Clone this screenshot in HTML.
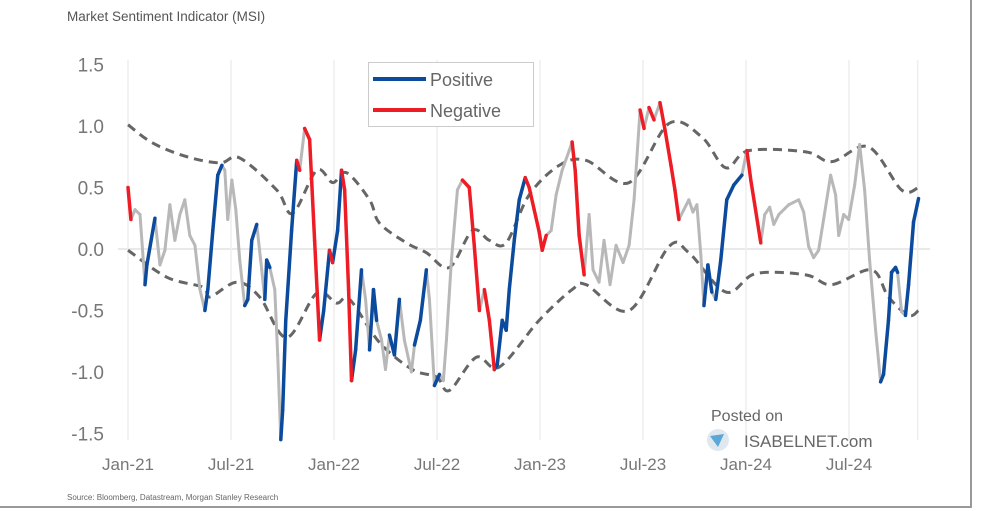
<!DOCTYPE html>
<html><head><meta charset="utf-8">
<style>
html,body{margin:0;padding:0;background:#fff;}
body{width:984px;height:511px;overflow:hidden;position:relative;font-family:"Liberation Sans",sans-serif;}
svg{position:absolute;left:0;top:0;}
</style></head>
<body>
<svg id="chart" width="984" height="511">
  <text x="67" y="21" font-size="13.5" fill="#555">Market Sentiment Indicator (MSI)</text>
  <g id="grid"></g>
  <g id="yaxis"></g>
  <g id="xaxis"></g>
  <g id="bands"></g>
  <g id="series"></g>
  <g>
    <rect x="368.5" y="62.5" width="165" height="64" fill="#fff" stroke="#ccc"/>
    <line x1="373" y1="79" x2="426" y2="79" stroke="#0b4a9c" stroke-width="4"/>
    <text x="430" y="86" font-size="18" fill="#666">Positive</text>
    <line x1="373" y1="110" x2="426" y2="110" stroke="#ee1c25" stroke-width="4"/>
    <text x="430" y="117" font-size="18" fill="#666">Negative</text>
  </g>
  <g>
    <text x="711" y="421" font-size="16" fill="#666">Posted on</text>
    <circle cx="718" cy="440" r="11" fill="#dfe8ef"/>
    <path d="M710 436 L724 434 L718 447 Z" fill="#5aa7d8"/>
    <text x="744" y="447" font-size="17" fill="#666">ISABELNET.com</text>
  </g>
  <text x="67" y="500" font-size="8" fill="#666">Source: Bloomberg, Datastream, Morgan Stanley Research</text>
  <line x1="971" y1="0" x2="971" y2="507" stroke="#999" stroke-width="2"/>
  <line x1="0" y1="507" x2="972" y2="507" stroke="#999" stroke-width="2"/>
</svg>
<script>
const yTicks = [1.5, 1.0, 0.5, 0.0, -0.5, -1.0, -1.5];
const xTickLabels = ["Jan-21","Jul-21","Jan-22","Jul-22","Jan-23","Jul-23","Jan-24","Jul-24"];
const xTickMonths = [0,6,12,18,24,30,36,42];
// months since Jan-21
const msiT = [0,0.17,0.41,0.70,0.99,1.10,1.57,1.86,2.15,2.44,2.73,3.02,3.31,3.60,3.90,4.19,4.48,4.65,4.94,5.23,5.47,5.64,5.81,6.05,6.28,6.51,6.80,6.98,7.21,7.50,7.79,7.97,8.08,8.26,8.55,8.72,8.90,9.01,9.19,9.53,9.83,10.0,10.29,10.58,10.87,11.16,11.40,11.74,11.92,12.21,12.44,12.62,12.85,13.02,13.26,13.60,13.84,14.07,14.30,14.48,14.77,15.0,15.23,15.52,15.81,16.10,16.51,16.69,17.03,17.38,17.56,17.85,18.14,18.37,18.55,18.84,19.19,19.48,19.88,20.17,20.47,20.76,21.05,21.34,21.51,21.80,22.03,22.21,22.50,22.79,23.14,23.37,23.66,23.95,24.13,24.36,24.65,24.94,25.29,25.70,25.87,26.05,26.28,26.57,26.86,27.09,27.44,27.73,28.08,28.43,28.84,29.19,29.48,29.83,30.06,30.35,30.64,30.99,31.28,31.63,31.86,32.09,32.38,32.67,32.91,33.14,33.37,33.55,33.78,34.01,34.24,34.53,34.88,35.29,35.76,36.05,36.28,36.51,36.86,37.09,37.38,37.62,37.91,38.49,39.07,39.36,39.65,39.94,40.23,40.52,40.93,41.22,41.40,41.69,41.98,42.33,42.62,42.91,43.20,43.55,43.84,44.01,44.30,44.48,44.71,44.83,45.06,45.29,45.47,45.76,46.05];
const msiV = [0.50,0.24,0.32,0.28,-0.29,-0.13,0.25,-0.13,-0.01,0.36,0.07,0.28,0.40,0.11,0.03,-0.33,-0.50,-0.33,0.15,0.60,0.68,0.64,0.24,0.56,0.32,-0.09,-0.46,-0.41,0.07,0.20,-0.17,-0.41,-0.09,-0.15,-0.33,-0.86,-1.55,-1.31,-0.58,0.15,0.72,0.64,0.98,0.89,0.07,-0.74,-0.50,-0.01,-0.11,0.15,0.64,0.48,-0.33,-1.07,-0.82,-0.17,-0.41,-0.82,-0.33,-0.58,-0.74,-0.98,-0.70,-0.86,-0.41,-0.74,-1.0,-0.78,-0.58,-0.17,-0.41,-1.11,-1.02,-1.07,-0.74,-0.09,0.48,0.56,0.50,0.03,-0.50,-0.33,-0.58,-0.98,-0.94,-0.58,-0.66,-0.33,0.07,0.40,0.58,0.50,0.32,0.14,-0.01,0.11,0.15,0.44,0.64,0.80,0.87,0.64,0.11,-0.21,0.28,-0.17,-0.27,0.07,-0.29,0.03,-0.11,0.03,0.40,1.13,0.98,1.15,1.05,1.19,0.97,0.68,0.48,0.24,0.32,0.40,0.30,0.36,-0.05,-0.46,-0.13,-0.35,-0.41,-0.09,0.40,0.52,0.60,0.80,0.56,0.36,0.05,0.28,0.34,0.20,0.28,0.36,0.40,0.30,0.02,-0.07,-0.01,0.24,0.60,0.44,0.11,0.28,0.24,0.52,0.85,0.48,-0.09,-0.66,-1.08,-1.02,-0.58,-0.19,-0.15,-0.19,-0.51,-0.54,-0.29,0.22,0.41];
// regime of segment starting at each point: b=positive, r=negative, g=neutral
const msiC = "rgggbb" + "gggggggggg" + "bbbb" + "gggggg" + "bbb" + "gg" + "bb" + "ggg" + "bbbb" + "rgrrr" + "bbrbb" + "rrr" + "bb" + "gg" + "bb" + "ggg" + "bb" + "ggg" + "bb" + "gg" + "b" + "ggggg" + "rrr" + "g" + "rr" + "bbbbbbb" + "rrrrr" + "ggggg" + "rrr" + "gggggggggg" + "rgrgrrrr" + "gggggg" + "bb" + "g" + "bbbb" + "g" + "rrr" + "gggggggggggggggggggggg" + "bbbbb" + "gg" + "bbbb";
const upT = [0,1.46,3.44,5.35,6.51,8.66,9.59,10.99,11.92,12.73,14.07,14.65,16.22,17.38,18.72,20.06,21.05,22.03,23.37,25.12,26.69,29.19,31.51,33.43,34.83,36.16,39.48,40.99,43.14,45.06,46.05];
const upV = [1.01,0.86,0.75,0.70,0.74,0.48,0.29,0.64,0.54,0.62,0.40,0.21,0.05,-0.03,-0.15,0.15,0.07,0.05,0.44,0.68,0.72,0.54,1.02,0.91,0.66,0.80,0.79,0.71,0.83,0.48,0.50];
const loT = [0,2.27,4.36,4.77,6.34,7.67,9.24,10.99,12.15,12.91,14.65,16.57,17.97,18.72,20.29,21.63,23.95,25.87,26.69,29.19,31.51,32.67,34.83,36.57,39.48,40.99,43.31,44.30,45.47,46.05];
const loV = [-0.01,-0.23,-0.31,-0.39,-0.27,-0.39,-0.72,-0.36,-0.44,-0.41,-0.76,-0.98,-1.04,-1.15,-0.88,-0.96,-0.58,-0.33,-0.29,-0.50,0.02,-0.03,-0.35,-0.20,-0.21,-0.29,-0.17,-0.39,-0.54,-0.50];

const NS = "http://www.w3.org/2000/svg";
const xs = t => 128 + t * (103 / 6);
const ys = v => 249 - v * 123;
function mk(tag, attrs, parent){ const e = document.createElementNS(NS, tag); for (const k in attrs) e.setAttribute(k, attrs[k]); parent.appendChild(e); return e; }

const grid = document.getElementById('grid'), yax = document.getElementById('yaxis'), xax = document.getElementById('xaxis');
yTicks.forEach(v => {
  const t = mk('text', {x: 104, y: ys(v) + 7, 'font-size': 19, fill: '#777', 'text-anchor': 'end'}, yax);
  t.textContent = v.toFixed(1);
  
  
});
const zl = mk('line', {x1: 118, x2: 930, y1: ys(0), y2: ys(0), stroke: '#e2e2e2', 'stroke-width': 1.5}, grid);


xTickMonths.forEach((m, i) => {
  const gl = mk('line', {x1: xs(m), x2: xs(m), y1: 60, y2: 440, stroke: '#eeeeee', 'stroke-width': 1.5}, grid);
  
  
  const t = mk('text', {x: xs(m), y: 470, 'font-size': 17, fill: '#777', 'text-anchor': 'middle'}, xax);
  t.textContent = xTickLabels[i];
  
  
});
const gl2 = mk('line', {x1: xs(46), x2: xs(46), y1: 60, y2: 440, stroke: '#eeeeee', 'stroke-width': 1.5}, grid);



const bands = document.getElementById('bands');
function smooth(T, V){
  const P = T.map((t, i) => [xs(t), ys(V[i])]);
  let d = 'M' + P[0][0] + ' ' + P[0][1];
  for (let i = 0; i < P.length - 1; i++){
    const p0 = P[Math.max(0, i-1)], p1 = P[i], p2 = P[i+1], p3 = P[Math.min(P.length-1, i+2)];
    const c1 = [p1[0] + (p2[0]-p0[0])/6, p1[1] + (p2[1]-p0[1])/6];
    const c2 = [p2[0] - (p3[0]-p1[0])/6, p2[1] - (p3[1]-p1[1])/6];
    d += ` C${c1[0]} ${c1[1]} ${c2[0]} ${c2[1]} ${p2[0]} ${p2[1]}`;
  }
  return d;
}
const ub = mk('path', {d: smooth(upT, upV), fill: 'none', stroke: '#666', 'stroke-width': 3, 'stroke-dasharray': '9 6'}, bands);


const lb = mk('path', {d: smooth(loT, loV), fill: 'none', stroke: '#666', 'stroke-width': 3, 'stroke-dasharray': '9 6'}, bands);



const series = document.getElementById('series');
const colors = {b: '#0b4a9c', r: '#ee1c25', g: '#b8b8b8'};
const layers = ['g', 'b', 'r'];
layers.forEach(c => {
  for (let i = 0; i < msiT.length - 1; i++){
    const cc = msiC[i] || 'g';
    if (cc !== c) continue;
    const s = mk('line', {x1: xs(msiT[i]), y1: ys(msiV[i]), x2: xs(msiT[i+1]), y2: ys(msiV[i+1]), stroke: colors[c], 'stroke-width': c === 'g' ? 3 : 3.5, 'stroke-linecap': 'round'}, series);
    
    
  }
});
</script>
</body></html>
